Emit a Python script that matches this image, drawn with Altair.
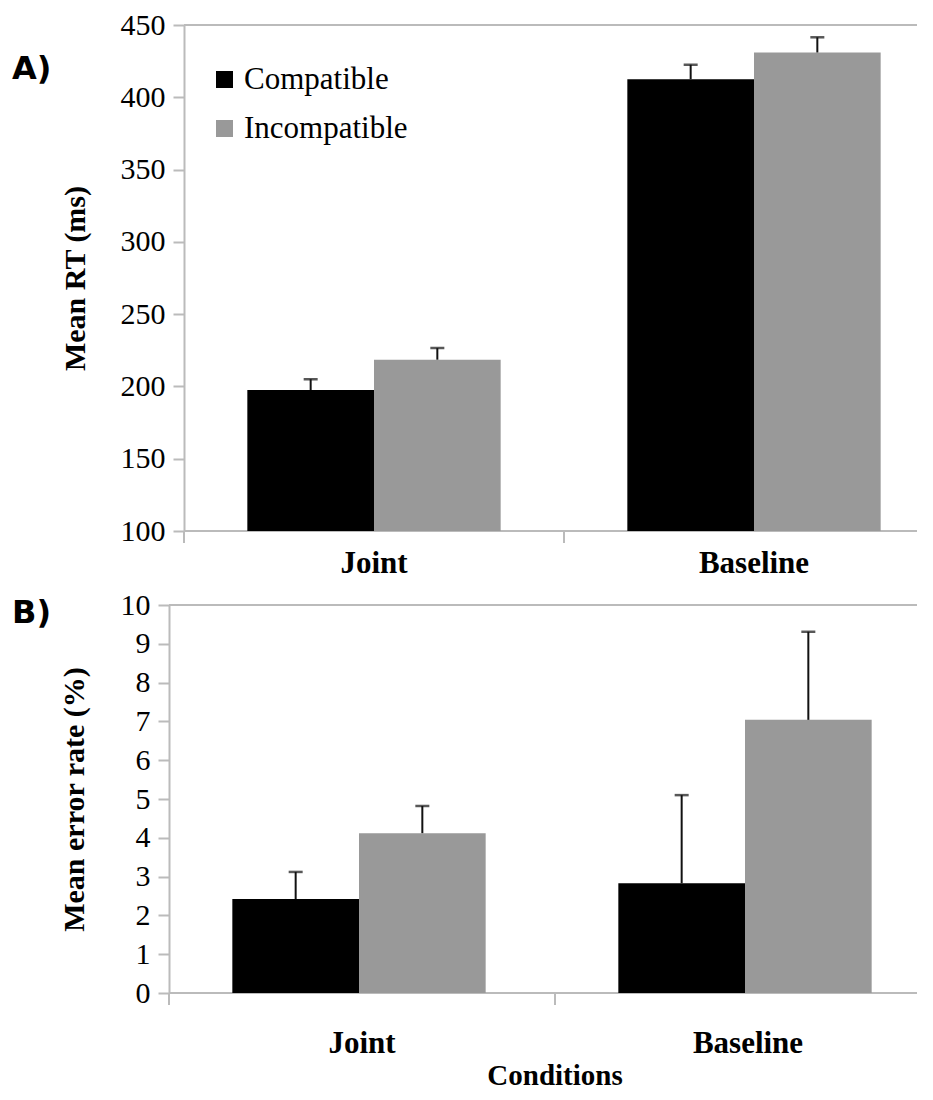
import altair as alt
import pandas as pd

# ---- data ----
conditions = ["Joint", "Baseline"]
types = ["Compatible", "Incompatible"]
bar_colors = ["#000000", "#999999"]

row_cond = ["Joint", "Joint", "Baseline", "Baseline"]
row_type = ["Compatible", "Incompatible", "Compatible", "Incompatible"]

rt_mean = [197.5, 218.5, 412.5, 431.0]
rt_err = [7.5, 8.0, 10.0, 10.5]
rt_ticks = [100, 150, 200, 250, 300, 350, 400, 450]

er_mean = [2.42, 4.12, 2.83, 7.04]
er_err = [0.70, 0.70, 2.27, 2.27]
er_ticks = [0, 1, 2, 3, 4, 5, 6, 7, 8, 9, 10]

SERIF = "Liberation Serif"
GRAY = "#bbbbbb"
ERR = "#111111"


def panel(means, errs, ticks, ytitle, plabel, W, R0, R1, H, lab_x, lab_y,
          yoff, ytitle_pad, xlab_dy, xtitle=None, xtitle_dy=0,
          legend=False):
    df = pd.DataFrame({"cond": row_cond, "type": row_type,
                       "mean": means, "err": errs})
    df["upper"] = df["mean"] + df["err"]
    dom = [ticks[0], ticks[-1]]

    xscale = alt.Scale(domain=conditions, range=[R0, R1],
                       paddingInner=0, paddingOuter=0)

    def xenc(**kw):
        return alt.X("cond:N", sort=conditions, scale=xscale, axis=None,
                     **kw)

    xoff = alt.XOffset("type:N", sort=types,
                       scale=alt.Scale(domain=types, paddingInner=0,
                                       paddingOuter=0.5))
    yscale = alt.Scale(domain=dom, zero=False, nice=False)
    yaxis = alt.Axis(values=ticks, grid=False, domainColor=GRAY,
                     domainWidth=2, tickColor=GRAY, tickWidth=2,
                     tickSize=11, offset=yoff, labelFont=SERIF,
                     labelFontSize=30, labelColor="black", labelPadding=8,
                     labelOverlap=False, titleFont=SERIF, titleFontSize=30,
                     titleFontWeight="bold", titleColor="black",
                     titlePadding=ytitle_pad)

    def yenc(field):
        return alt.Y(field, scale=yscale, axis=yaxis, title=ytitle)

    if legend:
        leg = alt.Legend(orient="none", legendX=25, legendY=39, title=None,
                         symbolType="square", symbolSize=289,
                         symbolStrokeWidth=0, labelFont=SERIF,
                         labelFontSize=31, labelColor="black",
                         labelLimit=400, rowPadding=17, labelOffset=4,
                         padding=0)
    else:
        leg = None

    base = alt.Chart(df)
    bars = base.mark_bar().encode(
        x=xenc(), xOffset=xoff, y=yenc("mean:Q"), y2=alt.datum(dom[0]),
        color=alt.Color("type:N", sort=types,
                        scale=alt.Scale(domain=types, range=bar_colors),
                        legend=leg),
    )
    whisk = base.mark_rule(color=ERR, strokeWidth=2).encode(
        x=xenc(), xOffset=xoff, y=yenc("mean:Q"), y2="upper:Q")
    caps = base.mark_tick(color=ERR, thickness=2.5, size=14).encode(
        x=xenc(), xOffset=xoff, y=yenc("upper:Q"))

    edges = alt.Chart(pd.DataFrame({"edge": dom})).mark_rule(
        color=GRAY, strokeWidth=2).encode(
        y=yenc("edge:Q"), x=alt.value(R0), x2=alt.value(W))

    cats = alt.Chart(pd.DataFrame({"cond": conditions}))
    xticks = cats.mark_rule(color=GRAY, strokeWidth=2).encode(
        x=xenc(bandPosition=0), y=alt.value(H), y2=alt.value(H + 12))
    xlabels = cats.mark_text(
        font=SERIF, fontSize=31, fontWeight="bold", color="black",
        baseline="middle", align="center").encode(
        x=xenc(), text="cond:N", y=alt.value(H + xlab_dy))

    lab = alt.Chart(pd.DataFrame({"t": [plabel]})).mark_text(
        font="DejaVu Sans", fontWeight="bold", fontSize=32, align="left",
        baseline="middle", color="black").encode(
        text="t:N", x=alt.value(lab_x), y=alt.value(lab_y))

    layers = [edges, bars, whisk, caps, xticks, xlabels, lab]
    if xtitle:
        layers.append(
            alt.Chart(pd.DataFrame({"t": [xtitle]})).mark_text(
                font=SERIF, fontSize=29, fontWeight="bold", color="black",
                baseline="middle", align="center").encode(
                text="t:N", x=alt.value((R0 + R1) / 2),
                y=alt.value(H + xtitle_dy)))

    return alt.layer(*layers).properties(width=W, height=H)


top = panel(rt_mean, rt_err, rt_ticks, "Mean RT (ms)", "A)",
            W=733, R0=0, R1=760, H=506, lab_x=-172, lab_y=44,
            yoff=0, ytitle_pad=30, xlab_dy=33, legend=True)
bottom = panel(er_mean, er_err, er_ticks, "Mean error rate (%)", "B)",
               W=733, R0=-15, R1=757, H=388, lab_x=-172, lab_y=8,
               yoff=15, ytitle_pad=31, xlab_dy=51, xtitle="Conditions",
               xtitle_dy=83)

chart = alt.concat(top, bottom, columns=1, spacing=11).resolve_scale(
    color="independent"
).properties(
    padding={"top": 2, "bottom": 0, "left": 4, "right": 0},
    background="white",
).configure_view(stroke=None)

chart.save("out.html", embed_options={"renderer": "svg", "actions": False})
